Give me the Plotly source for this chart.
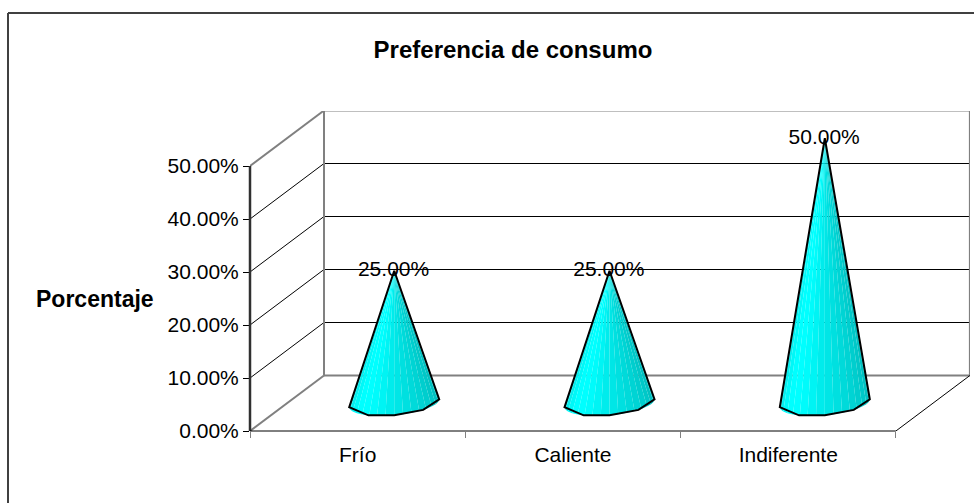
import math
import plotly.graph_objects as go

categories = ["Frío", "Caliente", "Indiferente"]
values = [25, 25, 50]
value_labels = ["25.00%", "25.00%", "50.00%"]
y_ticks = [0, 10, 20, 30, 40, 50]
y_tick_labels = ["0.00%", "10.00%", "20.00%", "30.00%", "40.00%", "50.00%"]

W, H = 974, 503
X0, X1 = 250, 970      # pixel extent of plot area
Y0, Y1 = 431, 111
PX_X = 215.3           # px per category
PX_Y = 5.3             # px per percent
DX = 74 / PX_X         # depth, in x units
DY = 55.5 / PX_Y       # depth, in y units
FONT = "Liberation Sans, Arial, sans-serif"
GREY = "#808080"
COLS = ["#0CE4E4", "#06EEEE", "#00F8F8", "#00FFFF", "#00FFFF", "#00FBFB", "#00F4F4",
        "#00ECEC", "#00E6E6", "#00E0E0", "#00DADA", "#00D4D4", "#00CECE", "#00C8C8",
        "#00C2C2", "#00BEBE"]

fig = go.Figure()


def line(xs, ys, color="#000000", width=1):
    fig.add_trace(go.Scatter(x=xs, y=ys, mode="lines", cliponaxis=False,
                             line=dict(color=color, width=width),
                             hoverinfo="skip", showlegend=False))


top = y_ticks[-1]
n_cat = len(categories)

# gridlines on back wall and side wall
for t in y_ticks[1:-1]:
    line([0, DX, DX + n_cat], [t, t + DY, t + DY])
# floor and wall frame
line([DX, DX + n_cat], [DY, DY], GREY, 2)
line([DX, DX + n_cat], [top + DY, top + DY], GREY, 2)
line([DX, DX], [DY, top + DY], GREY, 2)
line([DX + n_cat, DX + n_cat], [DY, top + DY], GREY, 2)
line([0, DX], [0, DY], GREY, 2)
line([0, DX], [top, top + DY], GREY, 2)
line([n_cat, n_cat + DX], [0, DY])

# cones
A = 45 / PX_X
B = 12 / PX_Y
TILT = 4 / PX_Y


def rim(cx, cy, deg):
    t = math.radians(deg)
    return cx + A * math.cos(t), cy + B * math.sin(t) + TILT * math.cos(t)


for i, v in enumerate(values):
    cx = i + 0.5 + DX / 2 - 0.002
    cy = DY / 2
    ax, ay = cx, cy + v
    n = len(COLS)
    for k in range(n):
        d0 = 180 + 180 * k / n
        d1 = 180 + 180 * (k + 1) / n
        p0 = rim(cx, cy, d0)
        p1 = rim(cx, cy, d1)
        fig.add_trace(go.Scatter(x=[ax, p0[0], p1[0], ax], y=[ay, p0[1], p1[1], ay],
                                 mode="lines", fill="toself", fillcolor=COLS[k],
                                 line=dict(width=0), cliponaxis=False,
                                 hoverinfo="skip", showlegend=False))
    pts = [rim(cx, cy, d) for d in (180, 235, 270, 310, 360)]
    line([ax] + [p[0] for p in pts] + [ax], [ay] + [p[1] for p in pts] + [ay], "#000000", 2)

# data labels
fig.add_trace(go.Scatter(
    x=[i + 0.5 + DX / 2 - 0.005 for i in range(n_cat)],
    y=[DY / 2 + v for v in values],
    mode="text", text=value_labels, textposition="middle center", cliponaxis=False,
    textfont=dict(family=FONT, size=21, color="#000000"),
    hoverinfo="skip", showlegend=False))


def px(x):
    return (x - X0) / (X1 - X0)


def py(y):
    return (Y0 - y) / (Y0 - Y1)


shapes = [
    dict(type="line", xref="paper", yref="paper", x0=px(8), x1=px(8), y0=py(13), y1=py(503),
         line=dict(color="#404040", width=2)),
    dict(type="line", xref="paper", yref="paper", x0=px(8), x1=px(974), y0=py(13), y1=py(13),
         line=dict(color="#404040", width=2)),
    # axis lines
    dict(type="line", xref="paper", yref="paper", x0=px(250), x1=px(250), y0=py(431), y1=py(166),
         line=dict(color="#303030", width=2.5)),
    dict(type="line", xref="x", yref="paper", x0=0, x1=n_cat, y0=0, y1=0,
         line=dict(color="#000000", width=1)),
]
annotations = [
    dict(text="<b>Porcentaje</b>", xref="paper", yref="paper", x=px(94.5), y=py(299), showarrow=False,
         xanchor="center", yanchor="middle", font=dict(family=FONT, size=23, color="#000000")),
]

fig.update_layout(
    width=W, height=H, autosize=False,
    margin=dict(l=X0, r=W - X1, t=Y1, b=H - Y0, pad=0),
    paper_bgcolor="#ffffff", plot_bgcolor="#ffffff",
    showlegend=False, shapes=shapes, annotations=annotations,
    title=dict(text="<b>Preferencia de consumo</b>", x=513 / W, xanchor="center",
               y=1 - 50 / H, yanchor="middle",
               font=dict(family=FONT, size=24, color="#000000")),
    xaxis=dict(range=[0, (X1 - X0) / PX_X], tickmode="array",
               tickvals=[i + 0.5 for i in range(n_cat)], ticktext=categories,
               ticks="", showgrid=False, zeroline=False, showline=False,
               tickfont=dict(family=FONT, size=21, color="#000000"), ticklabelstandoff=9,
               minor=dict(tickmode="array", tickvals=list(range(n_cat + 1)), ticks="outside",
                          ticklen=6, tickcolor=GREY, tickwidth=1, showgrid=False)),
    yaxis=dict(range=[0, (Y0 - Y1) / PX_Y], tickmode="array", tickvals=y_ticks,
               ticktext=y_tick_labels, ticks="outside", ticklen=6, tickcolor="#000000",
               tickwidth=1, showgrid=False, zeroline=False, showline=False,
               tickfont=dict(family=FONT, size=21, color="#000000")),
)

fig.write_html("out.html", config={"displayModeBar": False},
               post_script="document.body.style.margin='0';document.documentElement.style.overflow='hidden';")
